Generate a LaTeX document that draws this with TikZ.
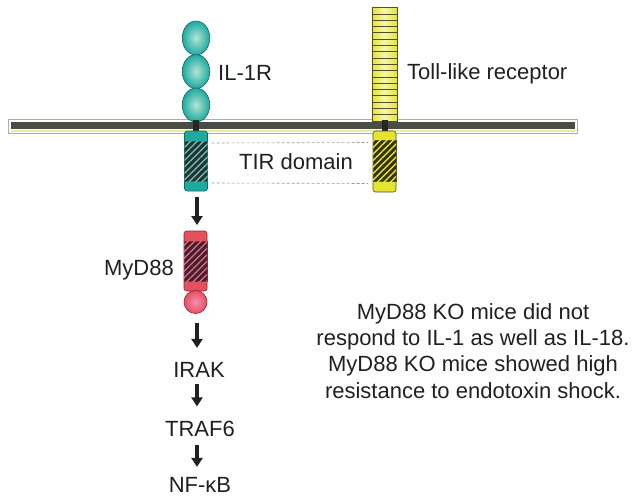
\documentclass[tikz,border=0pt]{standalone}
\usepackage{fontspec}
\setmainfont{Liberation Sans}
\usetikzlibrary{patterns,patterns.meta,arrows.meta,positioning}

\definecolor{ilteal}{RGB}{30,170,160}
\definecolor{illight}{RGB}{178,228,214}
\definecolor{iledge}{RGB}{22,105,98}
\definecolor{ildark}{RGB}{28,52,50}
\definecolor{ilstripe}{RGB}{120,180,172}
\definecolor{tlryel}{RGB}{228,228,48}
\definecolor{tlrlight}{RGB}{246,246,176}
\definecolor{tlredge}{RGB}{82,82,30}
\definecolor{tlrdark}{RGB}{52,50,18}
\definecolor{mydred}{RGB}{230,80,92}
\definecolor{mydpink}{RGB}{246,140,182}
\definecolor{mydedge}{RGB}{150,36,52}
\definecolor{myddark}{RGB}{72,26,42}
\definecolor{mydstripe}{RGB}{198,112,132}
\definecolor{memdark}{RGB}{74,77,70}
\definecolor{memyel}{RGB}{236,236,160}
\definecolor{inktext}{RGB}{35,31,32}

\tikzset{
    tirbox/.style={rectangle, rounded corners=2.5pt, minimum width=23pt,
        minimum height=60pt, inner sep=0pt, outer sep=0pt, line width=.6pt},
    hatchpart/.style={line width=.5pt, postaction={pattern={Lines[angle=45,
        distance=4.6pt, line width=1.4pt]}, pattern color=#1}},
    lbl/.style={inner sep=0pt, text height=15.75pt, text depth=0pt,
        font=\fontsize{22}{26.4}\selectfont, text=inktext},
    sig/.style={line width=3.2pt, inktext, -{Triangle[length=9pt,width=11pt]},
        shorten <=6pt, shorten >=12pt},
    tirline/.style={gray!80, line width=.6pt, dash pattern=on 3pt off 2pt}
}

\begin{document}
\begin{tikzpicture}[x=1pt,y=-1pt]
    \useasboundingbox (0,0) rectangle (642,501);
    % membrane
    \draw[gray!65, fill=white, line width=.8pt] (8,119) rectangle (577,133.3);
    \fill[memdark] (11,122.3) rectangle (575,129.3);
    \fill[memyel] (11,129.7) rectangle (575,131.7);

    % IL-1R
    \foreach \y in {38,71.5,105}
        \draw[iledge, line width=.6pt, inner color=illight, outer color=ilteal]
            (196,\y) ellipse (13.8 and 17);
    \fill[black!85] (192.8,119.5) rectangle (199,131);
    \node[tirbox, draw=iledge, fill=ilteal] (iltir) at (196,161) {};
    \draw[iledge, fill=ildark, hatchpart=ilstripe]
        ([yshift=-10pt]iltir.north west) rectangle ([yshift=10pt]iltir.south east);
    \node[lbl, anchor=west] (ilname) at (218,73) {IL-1R};

    % Toll-like receptor
    \draw[tlredge, line width=.6pt, left color=tlryel, right color=tlryel,
        middle color=tlrlight] (372,7.5) rectangle (397,121);
    \foreach \i in {1,...,17}
        \draw[tlredge, line width=.6pt] (372,7.5+\i*6.3) -- (397,7.5+\i*6.3);
    \fill[black!85] (381.5,119.5) rectangle (387.5,131);
    \node[tirbox, draw=tlredge, fill=tlryel, minimum height=61pt] (tlrtir) at (384.5,161.5) {};
    \draw[tlredge, fill=tlrdark, hatchpart=tlryel]
        ([yshift=-9.5pt]tlrtir.north west) rectangle ([yshift=10.5pt]tlrtir.south east);
    \node[lbl, anchor=west] (tlrname) at (407,72) {Toll-like receptor};

    % TIR domain
    \draw[tirline] ([xshift=4pt,yshift=-12pt]iltir.north east) -- ([xshift=-5pt,yshift=-11.5pt]tlrtir.north west);
    \draw[tirline] ([xshift=4pt,yshift=8pt]iltir.south east) -- ([xshift=-5pt,yshift=8.5pt]tlrtir.south west);
    \node[lbl] (tirname) at (296,162) {TIR domain};

    % MyD88
    \node[tirbox, draw=mydedge, fill=mydred] (mydtir) at (195.5,261) {};
    \draw[mydedge, fill=myddark, hatchpart=mydstripe]
        ([yshift=-10pt]mydtir.north west) rectangle ([yshift=9.5pt]mydtir.south east);
    \node[circle, minimum size=23pt, inner sep=0pt, draw=mydedge, line width=.6pt,
        inner color=mydpink, outer color=mydred] (myddd) at (195.5,302) {};
    \node[lbl, anchor=east] (mydname) at (174,268) {MyD88};

    % signalling
    \node[lbl] (irak) at (199,370) {IRAK};
    \node[lbl] (traf) at (200,428.5) {TRAF6};
    \node[lbl] (nfkb) at (200,485) {NF-κB};
    \draw[sig, shorten >=6pt] (iltir.south -| 197,0) -- (mydtir.north -| 197,0);
    \draw[sig, shorten <=9pt, shorten >=14pt] (myddd.south -| 197,0) -- (irak.north -| 197,0);
    \draw[sig, shorten >=14pt] (irak.south -| 197,0) -- (traf.north -| 197,0);
    \draw[sig, shorten <=8pt, shorten >=10pt] (traf.south -| 197,0) -- (nfkb.north -| 197,0);

    % note
    \node[align=center, inner sep=0pt, font=\fontsize{22}{26.2}\selectfont, text=inktext]
        (note) at (473,351) {MyD88 KO mice did not\\respond to IL-1 as well as IL-18.\\MyD88 KO mice showed high\\resistance to endotoxin shock.};
\end{tikzpicture}
\end{document}
